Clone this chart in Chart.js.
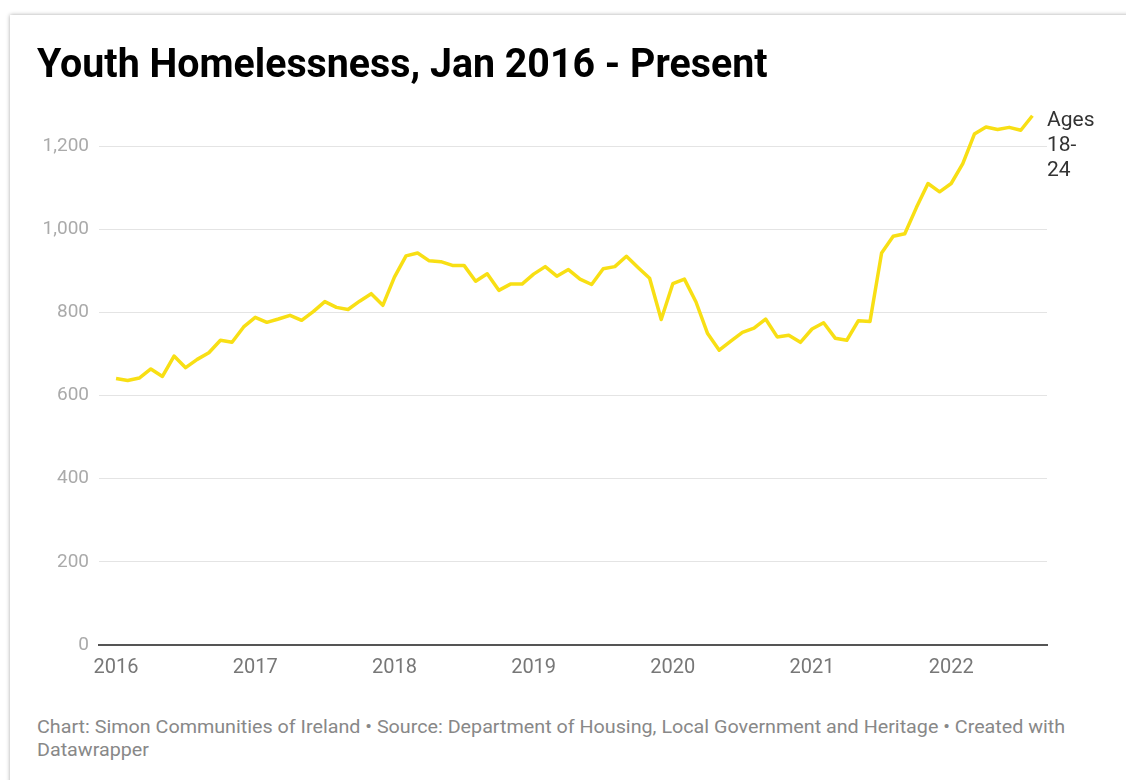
<!DOCTYPE html>
<html>
<head>
<meta charset="utf-8">
<script src="https://cdn.jsdelivr.net/npm/chart.js@4/dist/chart.umd.min.js"></script>
<style>
  body { margin: 0; background: #fff; font-family: Roboto, sans-serif; }
  #page { position: relative; width: 1126px; height: 780px; overflow: hidden; }
  #card { position: absolute; left: 10px; top: 15px; width: 1200px; height: 800px; background: #fff;
          box-shadow: 0 0 4px rgba(0,0,0,0.35); }
  #chart { position: absolute; left: 0; top: 0; }
  .txt { position: absolute; white-space: nowrap; transform-origin: 0 0; }
  #title { left: 37px; top: 42.5px; font-size: 41px; line-height: 41px; font-weight: 700; color: #000; }
  #ages { left: 1047px; top: 107px; font-size: 21px; line-height: 25px; color: #333; white-space: normal; }
  .foot { left: 37px; font-size: 18.7px; line-height: 22.5px; color: #888; }
</style>
</head>
<body>
<div id="page">
  <div id="card"></div>
  <canvas id="chart" width="1126" height="700"></canvas>
  <div id="title" class="txt">Youth Homelessness, Jan 2016 - Present</div>
  <div id="ages" class="txt">Ages<br>18-<br>24</div>
  <div id="foot1" class="txt foot" style="top:716.4px">Chart: Simon Communities of Ireland • Source: Department of Housing, Local Government and Heritage • Created with</div>
  <div id="foot2" class="txt foot" style="top:738.9px">Datawrapper</div>
</div>
<script>
// Monthly youth homelessness counts (ages 18-24).
const y2016 = [641, 636, 642, 664, 646, 695, 667, 687, 703, 733, 728, 765];
const y2017 = [788, 776, 784, 793, 781, 802, 826, 812, 807, 827, 845, 817];
const y2018 = [885, 936, 943, 924, 922, 913, 913, 875, 893, 853, 868, 868];
const y2019 = [892, 910, 887, 903, 880, 867, 905, 910, 935, 908, 882, 783];
const y2020 = [869, 880, 825, 749, 709, 731, 752, 762, 784, 741, 745, 728];
const y2021 = [760, 775, 738, 733, 780, 778, 943, 983, 989, 1052, 1110, 1090];
const y2022 = [1110, 1158, 1229, 1246, 1240, 1245, 1238, 1273];
// Year tick labels (one per January) and y tick values.
const yearLabels = ['2016', '2017', '2018', '2019', '2020', '2021', '2022'];
const yTicks = [0, 200, 400, 600, 800, 1000, 1200];

const series = [].concat(y2016, y2017, y2018, y2019, y2020, y2021, y2022);
const points = series.map(( v, i ) => ({ x: i, y: v }));

const ctx = document.getElementById( 'chart' );
new Chart( ctx, {
    type: 'line',
    data: {
        datasets: [{
            label: 'Ages 18-24',
            data: points,
            borderColor: '#f8df14',
            borderWidth: 3.5,
            borderJoinStyle: 'round',
            pointRadius: 0,
            tension: 0
        }]
    },
    options: {
        responsive: false,
        animation: false,
        devicePixelRatio: 1,
        layout: { padding: { top: 104.5, right: 79, left: 0, bottom: 0 } },
        plugins: { legend: { display: false }, tooltip: { enabled: false } },
        scales: {
            x: {
                type: 'linear',
                min: -1.47,
                max: 80.26,
                afterBuildTicks: axis => { axis.ticks = yearLabels.map(( l, i ) => ({ value: i * 12 })); },
                afterFit: axis => { axis.height = 55; },
                grid: { display: false, drawTicks: false },
                border: { display: true, color: '#555', width: 2 },
                ticks: {
                    padding: 11,
                    maxRotation: 0,
                    autoSkip: false,
                    color: '#777',
                    font: { family: 'Roboto', size: 20 },
                    callback: v => yearLabels[v / 12]
                }
            },
            y: {
                min: 0,
                max: 1300,
                afterBuildTicks: axis => { axis.ticks = yTicks.map( v => ({ value: v })); },
                afterFit: axis => { axis.width = 99; },
                grid: { color: '#e4e4e4', lineWidth: 1, drawTicks: false },
                border: { display: false },
                ticks: {
                    padding: 10,
                    color: '#aaa',
                    font: { family: 'Roboto', size: 19 },
                    callback: v => v.toLocaleString( 'en-US' )
                }
            }
        }
    }
});

// Stretch the HTML text lines to the widths they have in the picture.
function fitWidth( el, target ) {
    const s = target / el.scrollWidth;
    el.style.transform = 'scaleX(' + s + ')';
    return s;
}
fitWidth( document.getElementById( 'title' ), 731 );
const fs = fitWidth( document.getElementById( 'foot1' ), 1028 );
document.getElementById( 'foot2' ).style.transform = 'scaleX(' + fs + ')';
</script>
</body>
</html>
